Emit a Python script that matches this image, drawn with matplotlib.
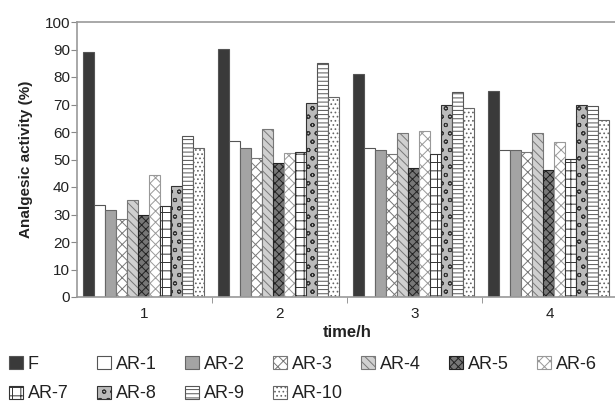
import matplotlib
matplotlib.use("Agg")
import matplotlib.pyplot as plt
import numpy as np
from matplotlib.ticker import MultipleLocator, FixedLocator

plt.rcParams['font.family'] = ['Liberation Sans', 'DejaVu Sans']
plt.rcParams['hatch.linewidth'] = 0.7

times = ['1', '2', '3', '4']
series = ['F', 'AR-1', 'AR-2', 'AR-3', 'AR-4', 'AR-5', 'AR-6', 'AR-7', 'AR-8', 'AR-9', 'AR-10']
F     = [89.2, 90.1, 81.1, 74.9]
AR1   = [33.5, 56.8, 54.3, 53.5]
AR2   = [31.6, 54.3, 53.5, 53.5]
AR3   = [28.2, 50.4, 51.9, 52.7]
AR4   = [35.3, 61.0, 59.5, 59.5]
AR5   = [29.8, 48.6, 46.8, 46.2]
AR6   = [44.4, 52.2, 60.5, 56.5]
AR7   = [33.1, 52.6, 51.9, 50.1]
AR8   = [40.4, 70.7, 69.7, 69.8]
AR9   = [58.7, 85.2, 74.5, 69.5]
AR10  = [54.3, 72.6, 68.8, 64.4]
values = [F, AR1, AR2, AR3, AR4, AR5, AR6, AR7, AR8, AR9, AR10]

styles = [
    dict(facecolor='#3a3a3a', hatch=None, edgecolor='#555555'),
    dict(facecolor='white', hatch=None, edgecolor='#555555'),
    dict(facecolor='#a4a4a4', hatch=None, edgecolor='#666666'),
    dict(facecolor='white', hatch='xxx', edgecolor='#777777'),
    dict(facecolor='#d0d0d0', hatch='\\\\\\\\', edgecolor='#777777'),
    dict(facecolor='#777777', hatch='xxxx', edgecolor='#222222'),
    dict(facecolor='white', hatch='xxx', edgecolor='#999999'),
    dict(facecolor='white', hatch='++', edgecolor='#333333'),
    dict(facecolor='#bbbbbb', hatch='oo', edgecolor='#333333'),
    dict(facecolor='white', hatch='----', edgecolor='#555555'),
    dict(facecolor='white', hatch='....', edgecolor='#666666'),
]

W, H = 615, 403
fig = plt.figure(figsize=(W/100, H/100), dpi=100)
ax = fig.add_axes([77/W, 1-297/H, 540/W, 275/H])

x = np.arange(len(times))
bw = 0.0815
offset0 = -0.5 + 6/135 + bw/2
handles = []
for i, (name, vals, st) in enumerate(zip(series, values, styles)):
    b = ax.bar(x + offset0 + i*bw, vals, width=bw, label=name, linewidth=0.8, **st)
    handles.append(b)

ax.set_xlim(-0.5, 3.5)
ax.set_ylim(0, 100)
ax.yaxis.set_major_locator(MultipleLocator(10))
ax.set_xticks(x)
ax.set_xticklabels(times)
ax.xaxis.set_minor_locator(FixedLocator([0.5, 1.5, 2.5]))
ax.tick_params(axis='x', which='major', length=0, labelsize=11, pad=7, labelcolor='#222222')
ax.tick_params(axis='x', which='minor', length=4, color='#888888', direction='out')
ax.tick_params(axis='y', length=4, color='#888888', labelsize=11, pad=1, labelcolor='#222222')
for s in ['left', 'bottom', 'top']:
    ax.spines[s].set_color('#999999')
    ax.spines[s].set_linewidth(1.2)
ax.spines['right'].set_visible(False)

ax.set_ylabel('Analgesic activity (%)', fontsize=11, fontweight='bold', color='#222222', labelpad=8)
ax.set_xlabel('time/h', fontsize=12, fontweight='bold', color='#222222', labelpad=3)

# legend laid out as a 7-column grid, row-major
for k, (h, name) in enumerate(zip(handles, series)):
    row, col = divmod(k, 7)
    px = 9 + 88 * col
    py = 364.5 + 29.5 * row
    leg = fig.legend([h], [name], loc='center left', bbox_to_anchor=(px/W, 1-py/H),
                     frameon=False, fontsize=13, handlelength=0.75, handleheight=0.75,
                     handletextpad=0.3, borderaxespad=0, borderpad=0)
    for t in leg.get_texts():
        t.set_color('#222222')

fig.savefig('out.png', dpi=100)
